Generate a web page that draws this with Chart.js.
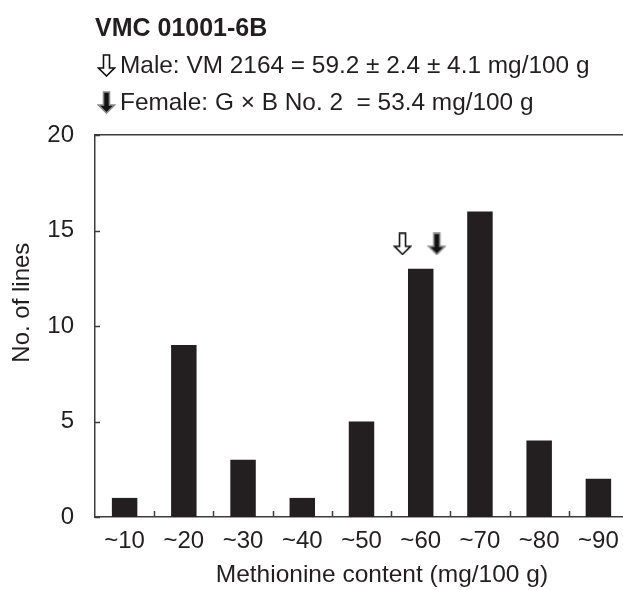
<!DOCTYPE html>
<html>
<head>
<meta charset="utf-8">
<script src="https://cdn.jsdelivr.net/npm/chart.js@4.4.1/dist/chart.umd.min.js"></script>
<style>
  html, body { margin: 0; padding: 0; background: #fff; overflow: hidden; }
  #wrap { width: 640px; height: 590px; }
</style>
</head>
<body>
<div id="wrap"><canvas id="chart" width="640" height="590"></canvas></div>
<script>
// --- Datos ---
const chartTitle = 'VMC 01001-6B';
const maleLabel = 'Male: VM 2164 = 59.2 ± 2.4 ± 4.1 mg/100 g';
const femaleLabel = 'Female: G × B No. 2  = 53.4 mg/100 g';
const categories = ['~10', '~20', '~30', '~40', '~50', '~60', '~70', '~80', '~90'];
const lineCounts = [1, 9, 3, 1, 5, 13, 16, 4, 2];
const yTicks = [0, 5, 10, 15, 20];
// arrows above the ~60 bar (position on the category axis, height in No. of lines)
const maleArrow = [{ x: 4.78, y: 14.3 }];
const femaleArrow = [{ x: 5.43, y: 14.3 }];
const xTitle = 'Methionine content (mg/100 g)';
const yTitle = 'No. of lines';

const ink = '#231f20';
const axisColor = '#3c3c3c';
const fontFamily = '"Liberation Sans", Arial, Helvetica, sans-serif';

// --- Flechas (iconos) ---
function makeArrow(fill, stroke) {
    const c = document.createElement('canvas');
    c.width = 19;
    c.height = 23;
    const g = c.getContext('2d');
    g.beginPath();
    g.moveTo(6.5, 1);
    g.lineTo(12.5, 1);
    g.lineTo(12.5, 14);
    g.lineTo(17.5, 14);
    g.lineTo(9.5, 22);
    g.lineTo(1.5, 14);
    g.lineTo(6.5, 14);
    g.closePath();
    g.fillStyle = fill;
    g.fill();
    g.lineWidth = 1.6;
    g.strokeStyle = stroke;
    g.stroke();
    return c;
}
const maleIcon = makeArrow('#ffffff', '#111111');
const femaleIcon = makeArrow('#111111', '#8a8a8a');

// --- Cabecera: título y leyenda ---
const headerPlugin = {
    id: 'header',
    afterDraw(chart) {
        const ctx = chart.ctx;
        ctx.save();
        ctx.fillStyle = ink;
        ctx.textBaseline = 'alphabetic';
        ctx.font = 'bold 25px ' + fontFamily;
        ctx.fillText(chartTitle, 95, 36);
        ctx.font = '24.4px ' + fontFamily;
        ctx.drawImage(maleIcon, 97, 54);
        ctx.fillText(maleLabel, 120, 73);
        ctx.drawImage(femaleIcon, 97, 91);
        ctx.fillText(femaleLabel, 120, 110);
        ctx.restore();
    }
};

// --- Marcas interiores de los ejes ---
const innerTicks = {
    id: 'innerTicks',
    afterDatasetsDraw(chart) {
        const { ctx, chartArea, scales } = chart;
        ctx.save();
        ctx.strokeStyle = axisColor;
        ctx.lineWidth = 1.5;
        ctx.beginPath();
        yTicks.forEach(v => {
            const y = Math.round(scales.y.getPixelForValue(v)) + 0.5;
            ctx.moveTo(chartArea.left, y);
            ctx.lineTo(chartArea.left + 5, y);
        });
        for (let i = 0; i < categories.length - 1; i++) {
            const x = Math.round((scales.x.getPixelForValue(i) + scales.x.getPixelForValue(i + 1)) / 2) + 0.5;
            ctx.moveTo(x, chartArea.bottom);
            ctx.lineTo(x, chartArea.bottom - 6);
        }
        ctx.stroke();
        ctx.restore();
    }
};

Chart.defaults.font.family = fontFamily;
Chart.defaults.color = ink;

new Chart(document.getElementById('chart'), {
    type: 'bar',
    data: {
        labels: categories,
        datasets: [
            {
                label: 'No. of lines',
                data: lineCounts,
                backgroundColor: ink,
                borderWidth: 0,
                grouped: false,
                categoryPercentage: 1,
                barPercentage: 0.43,
                xAxisID: 'x',
                yAxisID: 'y',
                order: 2
            },
            {
                type: 'scatter',
                label: maleLabel,
                data: maleArrow,
                pointStyle: maleIcon,
                xAxisID: 'x2',
                yAxisID: 'y',
                order: 1
            },
            {
                type: 'scatter',
                label: femaleLabel,
                data: femaleArrow,
                pointStyle: femaleIcon,
                xAxisID: 'x2',
                yAxisID: 'y',
                order: 1
            }
        ]
    },
    options: {
        responsive: false,
        animation: false,
        devicePixelRatio: 1,
        layout: { padding: { top: 135, right: 12, left: 0, bottom: 0 } },
        plugins: {
            legend: { display: false },
            title: { display: false },
            tooltip: { enabled: false }
        },
        scales: {
            x: {
                type: 'category',
                position: 'bottom',
                offset: true,
                grid: { display: false },
                border: { display: true, color: axisColor, width: 1.5 },
                ticks: { font: { size: 24 }, color: ink, padding: 2, maxRotation: 0, autoSkip: false },
                // the original title sits a bit right of the axis centre
                title: { display: true, text: '\u00a0'.repeat(6) + xTitle, font: { size: 24.5 }, color: ink, padding: { top: 0, bottom: 0 } },
                afterFit(scale) { scale.height = 73; }
            },
            x2: {
                type: 'linear',
                position: 'top',
                min: -0.5,
                max: 8.5,
                grid: { display: false },
                border: { display: true, color: axisColor, width: 1.5 },
                ticks: { display: false },
                afterFit(scale) { scale.height = 0; }
            },
            y: {
                min: 0,
                max: 20,
                afterBuildTicks(scale) { scale.ticks = yTicks.map(v => ({ value: v })); },
                grid: { display: false },
                border: { display: true, color: axisColor, width: 1.5 },
                ticks: { font: { size: 24 }, color: ink, padding: 13 },
                // title sits a little above the axis centre in the original
                title: { display: true, text: '\u00a0'.repeat(7) + yTitle, font: { size: 24 }, color: ink, padding: { top: 8, bottom: 0 } },
                afterFit(scale) { scale.width = 95; }
            }
        }
    },
    plugins: [headerPlugin, innerTicks]
});
</script>
</body>
</html>
